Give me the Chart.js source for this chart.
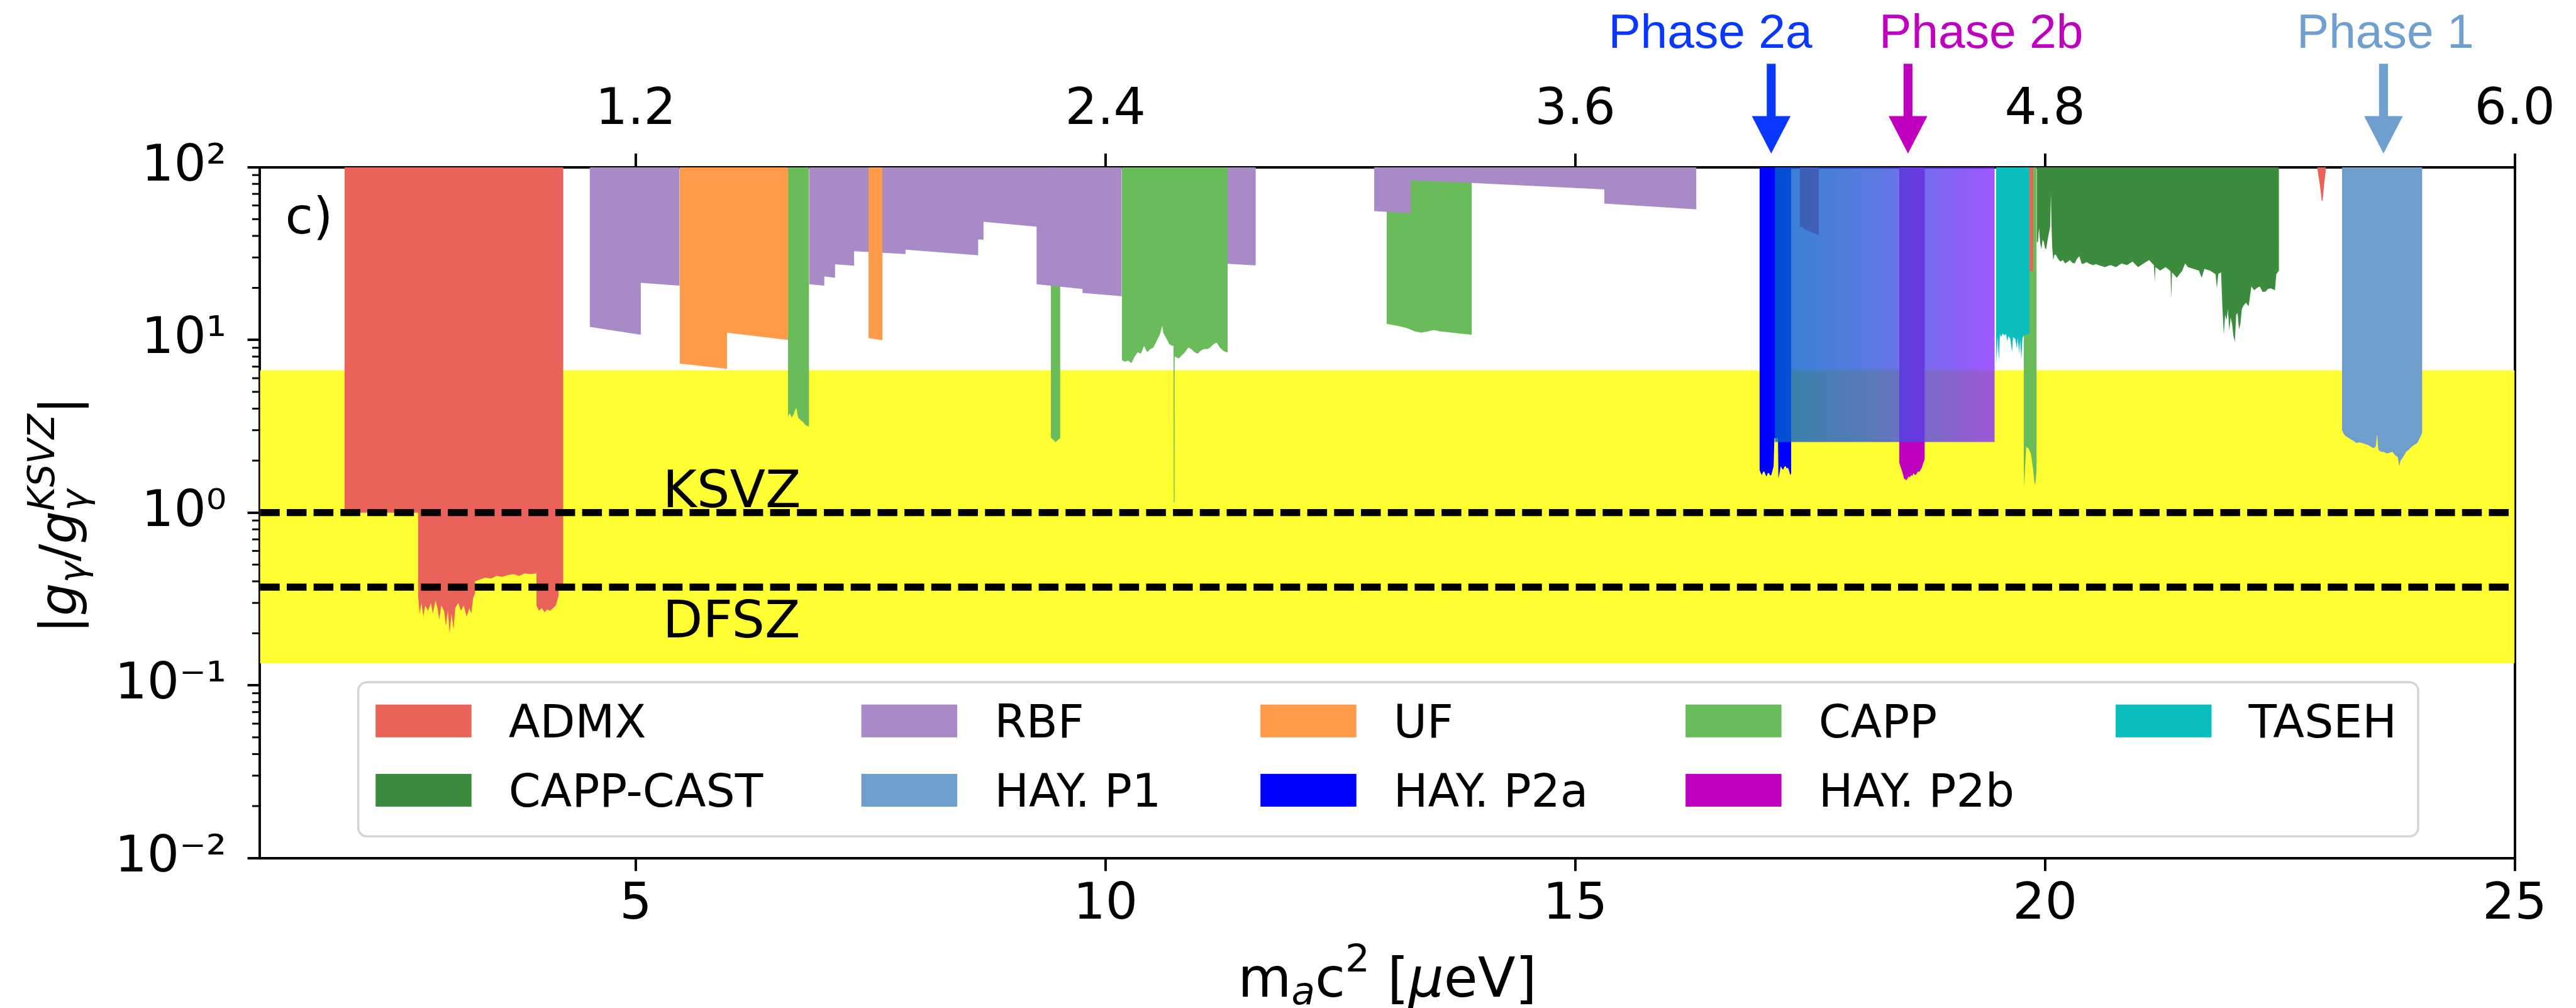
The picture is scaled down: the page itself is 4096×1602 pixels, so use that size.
<!DOCTYPE html>
<html>
<head>
<meta charset="utf-8">
<script src="https://cdn.jsdelivr.net/npm/chart.js@4.4.1/dist/chart.umd.min.js"></script>
<style>
  html, body { margin: 0; padding: 0; background: #fff; overflow: hidden; }
  canvas { display: block; }
</style>
</head>
<body>
<canvas id="c" width="4096" height="1602" style="width:4096px;height:1602px"></canvas>
<script>
// Layout unit: all sizes below are given on a 4163-wide design grid and scaled to the canvas.
const S = 4096 / 4163;

// ---------------- axes ----------------
const massTicks = [5, 10, 15, 20, 25];               // m_a c^2 [μeV]
const freqTicks = [1.2, 2.4, 3.6, 4.8, 6.0];         // frequency [GHz]
const couplingTicks = [0.01, 0.1, 1, 10, 100];
const couplingTickLabels = ['10⁻²', '10⁻¹', '10⁰', '10¹', '10²'];

// ---------------- model band and benchmark lines ----------------
const bandTop = 6.67;
const bandBottom = 0.134;
const ksvzLevel = 1.0;
const dfszLevel = 0.37;

// ---------------- exclusion limits: segments of [mass μeV, |gγ/gγ^KSVZ|] ----------------
const admx = [
  [[1.90, 1.0], [2.684, 1.0], [2.684, 0.33], [2.70, 0.26], [2.72, 0.30], [2.74, 0.25], [2.76, 0.29], [2.79, 0.27],
   [2.82, 0.30], [2.84, 0.26], [2.87, 0.31], [2.89, 0.28], [2.91, 0.24], [2.93, 0.29], [2.96, 0.27], [2.98, 0.22],
   [3.00, 0.27], [3.02, 0.20], [3.04, 0.26], [3.06, 0.21], [3.08, 0.28], [3.11, 0.30], [3.14, 0.27], [3.17, 0.29],
   [3.20, 0.25], [3.23, 0.28], [3.25, 0.26], [3.27, 0.32], [3.289, 0.34], [3.289, 0.40], [3.34, 0.41], [3.40, 0.42],
   [3.46, 0.415], [3.52, 0.43], [3.58, 0.425], [3.64, 0.435], [3.70, 0.44], [3.76, 0.43], [3.82, 0.445], [3.88, 0.44],
   [3.944, 0.445], [3.944, 0.29], [3.97, 0.27], [4.00, 0.28], [4.03, 0.265], [4.06, 0.275], [4.09, 0.27], [4.12, 0.28],
   [4.15, 0.29], [4.18, 0.33], [4.18, 0.36], [4.23, 0.36]],
  [[17.390, 44.6], [17.41, 45.5], [17.43, 44], [17.47, 43], [17.51, 42], [17.55, 41.2], [17.592, 40.5]],
  [[19.835, 25], [19.875, 25]],
  [[22.90, 97], [22.93, 76], [22.945, 64], [22.955, 64], [22.97, 78], [22.99, 97]]
];
const rbf = [
  [[4.51, 11.9], [5.054, 10.7], [5.054, 21.4], [5.468, 20.6]],
  [[6.846, 21.0], [7.007, 20.6], [7.007, 23.3], [7.122, 22.9], [7.122, 27.4], [7.324, 26.9], [7.324, 32.6],
   [7.872, 31.4], [7.872, 33.3], [8.645, 30.9], [8.645, 38.2], [8.702, 38.0], [8.702, 48.3], [9.267, 45.2],
   [9.267, 21.0], [9.755, 19.7], [9.755, 18.7], [10.174, 17.9]],
  [[11.30, 27.6], [11.60, 27.0]],
  [[12.86, 55.7], [13.25, 54.1], [13.25, 84], [13.90, 81], [15.31, 74.4], [15.31, 61.5], [16.29, 57]]
];
const uf = [
  [[5.468, 7.3], [5.972, 6.8], [5.972, 11.0], [6.621, 10.0]],
  [[7.478, 10.25], [7.626, 9.96]]
];
const capp = [
  [[6.621, 3.6], [6.64, 3.75], [6.661, 3.55], [6.68, 3.7], [6.695, 3.9], [6.71, 4.05], [6.729, 3.55], [6.75, 3.45],
   [6.78, 3.35], [6.81, 3.2], [6.846, 3.15]],
  [[9.418, 2.72], [9.45, 2.62], [9.47, 2.55], [9.49, 2.62], [9.519, 2.7]],
  [[10.174, 7.64], [10.208, 7.48], [10.242, 7.6], [10.276, 7.33], [10.309, 7.97], [10.343, 8.48], [10.377, 8.31],
   [10.410, 9.23], [10.444, 8.48], [10.478, 8.85], [10.511, 9.04], [10.545, 9.84], [10.578, 10.7], [10.605, 12.1],
   [10.615, 11.0], [10.645, 10.3], [10.679, 9.44], [10.713, 9.23], [10.724, 9.3], [10.728, 1.15], [10.732, 1.15],
   [10.736, 8.0], [10.746, 7.97], [10.780, 7.80], [10.813, 8.13], [10.847, 8.48], [10.881, 9.04], [10.914, 8.85],
   [10.948, 8.48], [10.982, 8.31], [11.015, 8.67], [11.049, 8.85], [11.083, 8.85], [11.116, 9.04], [11.150, 9.44],
   [11.184, 9.64], [11.217, 9.04], [11.251, 8.67], [11.285, 8.48], [11.301, 8.48]],
  [[12.992, 12.4], [13.093, 12.1], [13.160, 11.9], [13.227, 11.6], [13.295, 11.2], [13.362, 11.0], [13.429, 11.2],
   [13.496, 11.4], [13.563, 11.2], [13.631, 11.1], [13.765, 10.9], [13.900, 10.7]],
  [[19.773, 2.0], [19.78, 1.40], [19.79, 1.9], [19.80, 2.4], [19.824, 2.35], [19.849, 2.2], [19.874, 1.77],
   [19.89, 1.45], [19.90, 1.5], [19.912, 1.8]]
];
const cappCast = [
  [[19.912, 36.8], [19.925, 36.8], [19.937, 44.5], [19.950, 36], [19.962, 33.5], [19.975, 38], [19.988, 36.8],
   [20.000, 34], [20.013, 33.5], [20.025, 37], [20.038, 40.5], [20.055, 45], [20.063, 69.8], [20.070, 45],
   [20.076, 35.1], [20.088, 29.0], [20.101, 31], [20.114, 31.2], [20.139, 29.5], [20.164, 28.4], [20.190, 29.0],
   [20.215, 27.7], [20.240, 28.3], [20.265, 29.0], [20.290, 28.0], [20.316, 27.7], [20.341, 29.5], [20.366, 30.5],
   [20.391, 27.5], [20.417, 27.7], [20.442, 28.2], [20.467, 27.7], [20.492, 27.3], [20.518, 27.1], [20.543, 27.5],
   [20.568, 27.1], [20.600, 26.8], [20.638, 26.4], [20.697, 27.1], [20.756, 26.4], [20.815, 27.7], [20.873, 27.1],
   [20.932, 28.4], [20.991, 26.4], [21.050, 27.7], [21.109, 29.0], [21.160, 27.0], [21.168, 21.8], [21.176, 26.4],
   [21.226, 25.2], [21.285, 26.4], [21.336, 25.0], [21.344, 17.3], [21.352, 24.6], [21.403, 22.9], [21.462, 25.2],
   [21.491, 27.7], [21.521, 26.4], [21.579, 25.8], [21.638, 25.2], [21.668, 22.9], [21.697, 25.8], [21.756, 25.2],
   [21.815, 24.0], [21.830, 19.9], [21.844, 24.0], [21.874, 24.6], [21.888, 15.7], [21.903, 10.7], [21.918, 14.0],
   [21.932, 13.0], [21.947, 15.0], [21.962, 11.3], [21.976, 13.5], [21.991, 12.4], [22.006, 10.5], [22.021, 9.77],
   [22.035, 14.0], [22.050, 14.3], [22.065, 11.5], [22.080, 12.4], [22.095, 15.0], [22.109, 15.7], [22.138, 16.4],
   [22.168, 15.7], [22.197, 20.4], [22.227, 19.4], [22.257, 20.0], [22.286, 20.4], [22.315, 19.0], [22.344, 19.0],
   [22.374, 19.7], [22.403, 19.9], [22.448, 19.4], [22.462, 24.0], [22.491, 25.2]]
];
const taseh = [
  [[19.478, 10.9], [19.485, 7.2], [19.495, 10.5], [19.51, 7.6], [19.52, 10.8], [19.533, 10.4], [19.55, 10.9],
   [19.57, 10.6], [19.584, 10.9], [19.60, 9.8], [19.609, 10.5], [19.63, 10.2], [19.65, 8.5], [19.66, 10.4],
   [19.685, 10.1], [19.70, 8.9], [19.71, 10.3], [19.725, 8.4], [19.736, 10.0], [19.748, 7.7], [19.76, 10.2],
   [19.773, 10.6], [19.80, 10.8], [19.834, 10.8]]
];
const haystacP1 = [
  [[23.162, 2.99], [23.18, 2.85], [23.198, 2.78], [23.227, 2.72], [23.257, 2.65], [23.286, 2.60], [23.315, 2.53],
   [23.345, 2.55], [23.374, 2.53], [23.404, 2.50], [23.433, 2.47], [23.462, 2.42], [23.492, 2.36], [23.520, 2.40],
   [23.536, 2.85], [23.545, 2.40], [23.551, 2.30], [23.580, 2.25], [23.610, 2.24], [23.639, 2.20], [23.668, 2.22],
   [23.698, 2.25], [23.727, 2.15], [23.755, 2.10], [23.771, 1.86], [23.785, 2.0], [23.801, 2.05], [23.823, 2.15],
   [23.845, 2.25], [23.875, 2.32], [23.904, 2.41], [23.933, 2.47], [23.963, 2.53], [23.992, 2.72], [24.016, 2.92]]
];
const haystacP2a = [
  [[16.961, 1.77], [16.974, 1.70], [16.986, 1.65], [17.000, 1.72], [17.012, 1.73], [17.025, 1.66], [17.037, 1.62],
   [17.050, 1.70], [17.062, 1.69], [17.075, 1.64], [17.087, 1.65], [17.100, 1.75], [17.112, 1.86], [17.120, 2.7],
   [17.158, 2.7], [17.163, 1.58], [17.175, 1.70], [17.188, 1.86], [17.200, 1.80], [17.213, 1.77], [17.226, 1.84],
   [17.239, 1.86], [17.251, 1.80], [17.264, 1.82], [17.276, 1.75], [17.289, 1.65], [17.300, 1.69]]
];
const haystacP2b = [
  [[18.449, 1.95], [18.462, 1.85], [18.474, 1.77], [18.487, 1.68], [18.499, 1.58], [18.512, 1.56], [18.525, 1.54],
   [18.537, 1.58], [18.550, 1.62], [18.562, 1.60], [18.575, 1.65], [18.588, 1.63], [18.600, 1.69], [18.612, 1.66],
   [18.625, 1.65], [18.638, 1.70], [18.651, 1.73], [18.663, 1.72], [18.676, 1.77], [18.689, 1.82], [18.701, 1.91],
   [18.721, 2.05]]
];
// Phase 2 projected reach (drawn as a translucent colour ramp)
const phase2Reach = [[17.125, 2.56], [19.465, 2.56]];

// ---------------- annotations ----------------
const phaseArrows = [
  { text: 'Phase 2a', mass: 17.086, textMass: 15.353, color: '#0a37ff' },
  { text: 'Phase 2b', mass: 18.542, textMass: 18.236, color: '#bf00bf' },
  { text: 'Phase 1',  mass: 23.603, textMass: 22.680, color: '#6f9fcf' }
];

const COLORS = {
  band: '#ffff33', admx: '#ea635a', rbf: '#a88ac6', uf: '#fe9a4a', capp: '#6abc5a', taseh: '#0abebe',
  cappCast: '#3b8d3d', p1: '#6f9ecc', p2a: '#0000ff', p2b: '#bf00bf'
};

const legendItems = [
  ['ADMX', COLORS.admx], ['RBF', COLORS.rbf], ['UF', COLORS.uf], ['CAPP', COLORS.capp], ['TASEH', COLORS.taseh],
  ['CAPP-CAST', COLORS.cappCast], ['HAY. P1', COLORS.p1], ['HAY. P2a', COLORS.p2a], ['HAY. P2b', COLORS.p2b]
];

const DJ = "'DejaVu Sans', sans-serif";
const LIB = "'Liberation Sans', Arial, sans-serif";

// ---------------- datasets ----------------
function regions(label, color, segs) {
  return segs.map(seg => ({
    label, data: seg.map(([x, y]) => ({ x, y })), backgroundColor: color,
    fill: 'end', borderWidth: 0, pointRadius: 0, tension: 0
  }));
}

function rampColor(ctx) {
  const ch = ctx.chart;
  if (!ch.chartArea) return 'rgba(60,90,220,0.8)';
  const xs = ch.scales.x;
  const x0 = xs.getPixelForValue(phase2Reach[0][0]);
  const x1 = xs.getPixelForValue(phase2Reach[phase2Reach.length - 1][0]);
  const g = ch.ctx.createLinearGradient(x0, 0, x1, 0);
  g.addColorStop(0, 'rgba(0,98,200,0.8)');
  g.addColorStop(0.45, 'rgba(50,88,218,0.8)');
  g.addColorStop(1, 'rgba(135,45,255,0.8)');
  return g;
}

// bottom-to-top drawing order
const layers = [
  [{ label: 'band', data: [{ x: 1, y: bandTop }, { x: 25, y: bandTop }], backgroundColor: COLORS.band,
     fill: { value: bandBottom }, borderWidth: 0, pointRadius: 0 }],
  regions('CAPP', COLORS.capp, capp),
  regions('CAPP-CAST', COLORS.cappCast, cappCast),
  regions('RBF', COLORS.rbf, rbf),
  regions('UF', COLORS.uf, uf),
  regions('HAY. P1', COLORS.p1, haystacP1),
  regions('HAY. P2a', COLORS.p2a, haystacP2a),
  regions('HAY. P2b', COLORS.p2b, haystacP2b),
  regions('ADMX', COLORS.admx, admx),
  [{ label: 'Phase 2 reach', data: phase2Reach.map(([x, y]) => ({ x, y })), backgroundColor: rampColor,
     fill: 'end', borderWidth: 0, pointRadius: 0 }],
  regions('TASEH', COLORS.taseh, taseh),
  [ksvzLevel, dfszLevel].map(v => ({
    label: 'model', data: [{ x: 1, y: v }, { x: 25, y: v }], borderColor: '#000', borderWidth: 11.5 * S,
    borderDash: [32 * S, 11.4 * S], borderCapStyle: 'butt', fill: false, pointRadius: 0
  }))
];
const datasets = layers.flat();
datasets.forEach((d, i) => { d.order = datasets.length - i; });

// ---------------- text helpers ----------------
function runWidth(ctx, runs) {
  let w = 0;
  for (const r of runs) {
    if (r.stack) {
      let m = 0;
      for (const s of r.stack) { ctx.font = s.font; m = Math.max(m, ctx.measureText(s.t).width); }
      w += m;
    } else { ctx.font = r.font; w += ctx.measureText(r.t).width; }
  }
  return w;
}
function drawRunsAt(ctx, runs, x0, y0) {
  let x = x0;
  for (const r of runs) {
    if (r.stack) {
      let m = 0;
      for (const s of r.stack) {
        ctx.font = s.font; ctx.fillText(s.t, x, y0 + (s.dy || 0));
        m = Math.max(m, ctx.measureText(s.t).width);
      }
      x += m;
    } else {
      ctx.font = r.font; ctx.fillText(r.t, x, y0 + (r.dy || 0));
      x += ctx.measureText(r.t).width;
    }
  }
}

const overlay = {
  id: 'overlay',
  afterDraw(chart) {
    const { ctx, chartArea: a, scales } = chart;
    const xs = scales.x, ys = scales.y;
    ctx.save();
    ctx.fillStyle = '#000';
    ctx.textBaseline = 'alphabetic';
    ctx.textAlign = 'left';

    // minor ticks on the logarithmic axis
    ctx.strokeStyle = '#000';
    ctx.lineWidth = 3 * S;
    for (let d = -2; d < 2; d++) {
      for (let k = 2; k < 10; k++) {
        const py = ys.getPixelForValue(k * Math.pow(10, d));
        ctx.beginPath(); ctx.moveTo(a.left - 12.5 * S, py); ctx.lineTo(a.left, py); ctx.stroke();
      }
    }

    // panel tag and model names
    ctx.font = `${82 * S}px ${DJ}`;
    ctx.fillText('c)', 461 * S, 377 * S);
    ctx.font = `${84 * S}px ${DJ}`;
    ctx.fillText('KSVZ', 1071 * S, ys.getPixelForValue(ksvzLevel) - 9 * S);
    ctx.fillText('DFSZ', 1071 * S, ys.getPixelForValue(dfszLevel) + 81 * S);

    // x-axis title: m_a c^2 [μeV]
    const F = 89 * S;
    const xRuns = [
      { t: 'm', font: `${F}px ${DJ}` },
      { t: 'a', font: `italic ${0.7 * F}px ${DJ}`, dy: 0.14 * F },
      { t: 'c', font: `${F}px ${DJ}` },
      { t: '2', font: `${0.7 * F}px ${DJ}`, dy: -0.46 * F },
      { t: ' [', font: `${F}px ${DJ}` },
      { t: 'μ', font: `italic ${F}px ${DJ}` },
      { t: 'eV]', font: `${F}px ${DJ}` }
    ];
    const xw = runWidth(ctx, xRuns);
    drawRunsAt(ctx, xRuns, (a.left + a.right) / 2 - xw / 2, 1610 * S);

    // y-axis title: |gγ / gγ^KSVZ|
    const G = 84 * S;
    const yRuns = [
      { t: '|', font: `${G}px ${DJ}` },
      { t: 'g', font: `italic ${G}px ${DJ}` },
      { t: 'γ', font: `italic ${0.7 * G}px ${DJ}`, dy: 0.18 * G },
      { t: '/', font: `${G}px ${DJ}` },
      { t: 'g', font: `italic ${G}px ${DJ}` },
      { stack: [
        { t: 'γ', font: `italic ${0.7 * G}px ${DJ}`, dy: 0.22 * G },
        { t: 'KSVZ', font: `italic ${0.7 * G}px ${DJ}`, dy: -0.42 * G }
      ] },
      { t: '|', font: `${G}px ${DJ}` }
    ];
    const yw = runWidth(ctx, yRuns);
    ctx.save();
    ctx.translate(123 * S, 832 * S);
    ctx.rotate(-Math.PI / 2);
    drawRunsAt(ctx, yRuns, -yw / 2, 0);
    ctx.restore();

    // phase arrows and their labels
    for (const p of phaseArrows) {
      const xc = xs.getPixelForValue(p.mass);
      ctx.fillStyle = p.color;
      ctx.fillRect(xc - 7.2 * S, 103 * S, 14.4 * S, 86 * S);
      ctx.beginPath();
      ctx.moveTo(xc - 31.3 * S, 187.5 * S);
      ctx.lineTo(xc + 31.3 * S, 187.5 * S);
      ctx.lineTo(xc, 248 * S);
      ctx.closePath();
      ctx.fill();
      ctx.font = `${78 * S}px ${LIB}`;
      ctx.fillText(p.text, xs.getPixelForValue(p.textMass), 77 * S);
    }

    // legend
    const fx = 579 * S, fy = 1102 * S, fw = (3908 - 579) * S, fh = (1351 - 1102) * S;
    ctx.beginPath();
    ctx.roundRect(fx, fy, fw, fh, 14 * S);
    ctx.fillStyle = 'rgba(255,255,255,0.8)';
    ctx.fill();
    ctx.lineWidth = 3.5 * S;
    ctx.strokeStyle = '#d5d5d5';
    ctx.stroke();
    const colX = [607, 1392, 2037, 2724, 3419];
    const rowTop = [1138, 1250];
    ctx.font = `${74 * S}px ${DJ}`;
    legendItems.forEach(([name, color], i) => {
      const c = i % 5, r = Math.floor(i / 5);
      const sx = colX[c] * S, sy = rowTop[r] * S;
      ctx.fillStyle = color;
      ctx.fillRect(sx, sy, 155 * S, 53 * S);
      ctx.fillStyle = '#000';
      ctx.fillText(name, sx + 215 * S, sy + 53 * S);
    });

    ctx.restore();
  }
};

// ---------------- chart ----------------
const axisLine = { display: true, color: '#000', width: 4 * S };
const tickGrid = (len) => ({
  display: true, drawOnChartArea: false, drawTicks: true, tickLength: len,
  color: '#000', tickColor: '#000', lineWidth: 4 * S, tickWidth: 4 * S
});
const tickFont = { family: DJ, size: 82 * S };

new Chart(document.getElementById('c'), {
  type: 'line',
  data: { datasets },
  options: {
    responsive: false,
    animation: false,
    devicePixelRatio: 1,
    events: [],
    layout: { padding: { left: 0, top: 0, bottom: 0, right: 4096 - 4064 * S } },
    plugins: { legend: { display: false }, tooltip: { enabled: false } },
    elements: { point: { radius: 0 }, line: { tension: 0 } },
    scales: {
      x: {
        type: 'linear', position: 'bottom', min: 1, max: 25, z: 1,
        afterBuildTicks: s => { s.ticks = massTicks.map(v => ({ value: v })); },
        afterFit: s => { s.height = 1602 - 1386 * S; },
        ticks: { font: tickFont, color: '#000', padding: 6 * S, autoSkip: false, maxRotation: 0, minRotation: 0,
                 callback: v => String(v) },
        grid: tickGrid(21 * S),
        border: axisLine
      },
      x2: {
        type: 'linear', position: 'top', min: 0.24, max: 6.0, z: 1,
        afterBuildTicks: s => { s.ticks = freqTicks.map(v => ({ value: v })); },
        afterFit: s => { s.height = 270 * S; },
        ticks: { font: tickFont, color: '#000', padding: 20 * S, autoSkip: false, maxRotation: 0, minRotation: 0,
                 callback: v => Number(v).toFixed(1) },
        grid: tickGrid(22 * S),
        border: axisLine
      },
      y: {
        type: 'logarithmic', position: 'left', min: 0.01, max: 100, z: 1,
        afterBuildTicks: s => { s.ticks = couplingTicks.map(v => ({ value: v, major: true })); },
        afterFit: s => { s.width = 420 * S; },
        ticks: { font: tickFont, color: '#000', padding: 34 * S, autoSkip: false,
                 callback: v => couplingTickLabels[Math.round(Math.log10(v)) + 2] },
        grid: tickGrid(20 * S),
        border: axisLine
      },
      yR: {
        type: 'linear', position: 'right', z: 1,
        afterFit: s => { s.width = 0; },
        ticks: { display: false },
        grid: { display: false, drawTicks: false },
        border: axisLine
      }
    }
  },
  plugins: [overlay]
});
</script>
</body>
</html>
